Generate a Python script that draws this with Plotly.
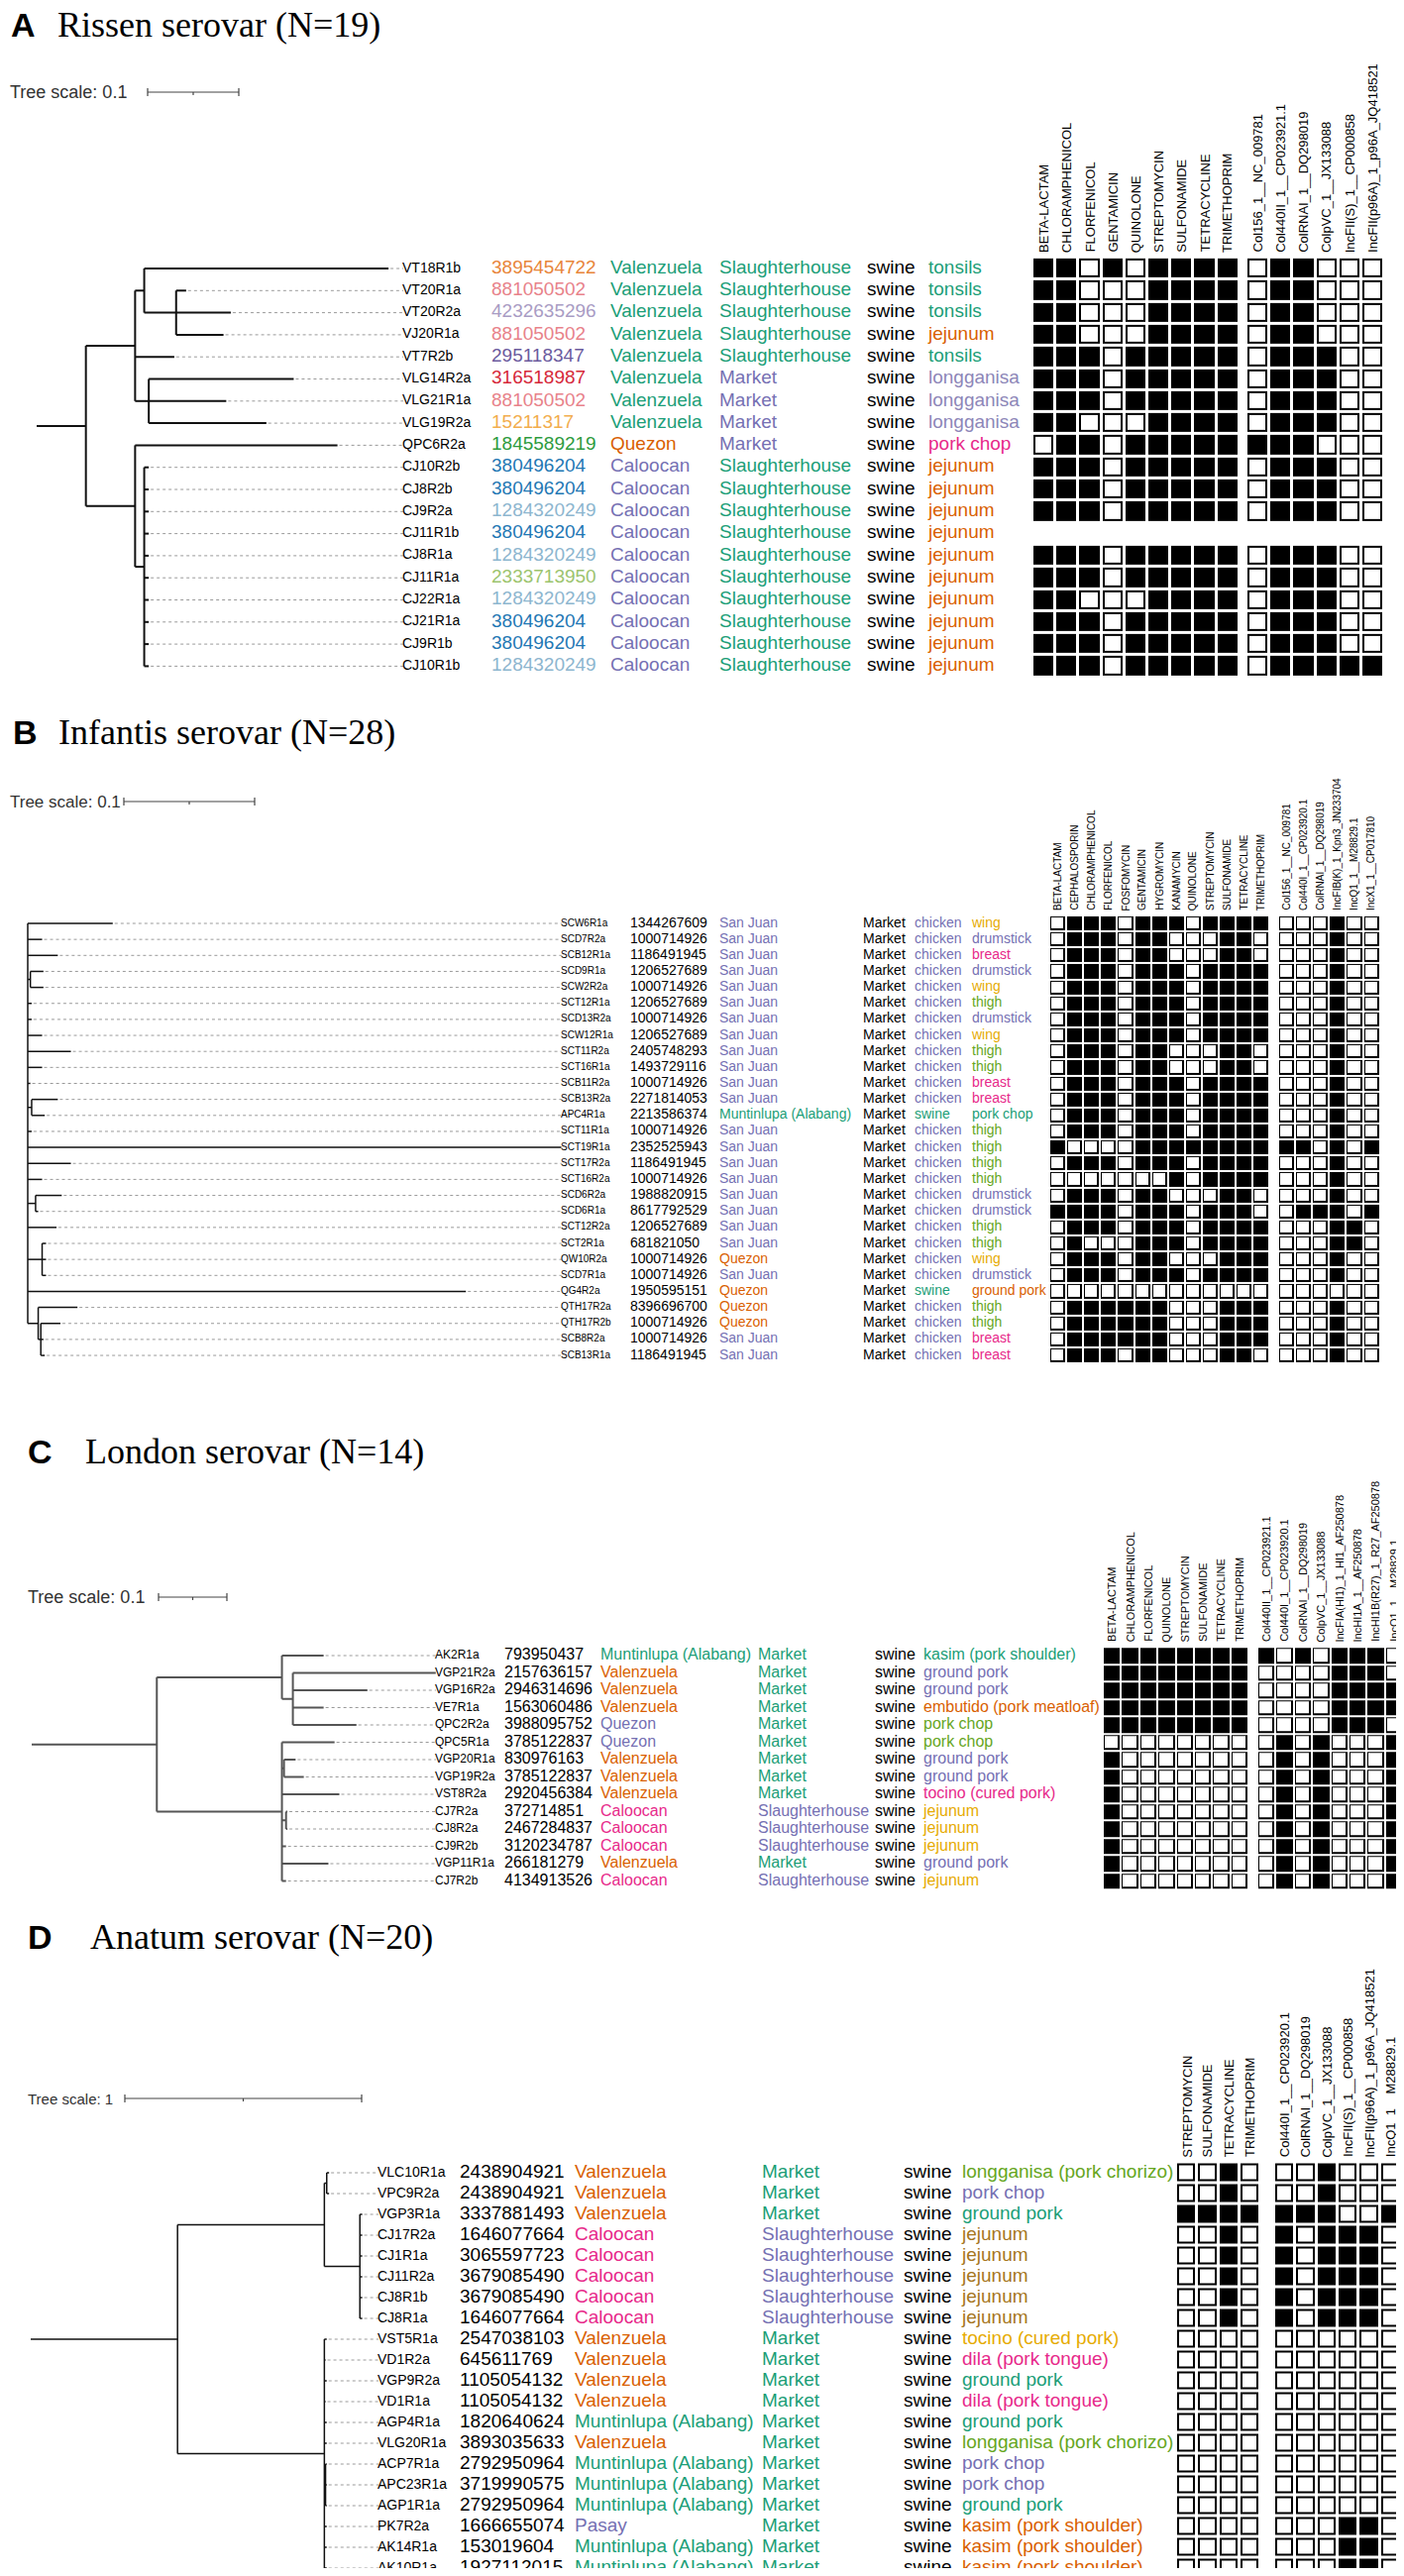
import numpy as np
import plotly.graph_objects as go

# Dark2-style colours used by the metadata columns
TEAL, ORANGE, PURPLE, PINK = '#1B9E77', '#D95F02', '#7570B3', '#E7298A'
GREEN, GOLD, BROWN = '#66A61E', '#E6AB02', '#A6761D'
SANS = 'Liberation Sans, Arial, sans-serif'
SERIF = 'Liberation Serif, Times New Roman, serif'

# ---------------- A. Rissen serovar (N=19) ----------------
a_newick = ("(((VT18R1b:0.268,(VT20R1a:0.011,VT20R2a:0.060,VJ20R1a:0.052):0.035):0.010,VT7R2b:0.043,"
            "(VLG14R2a:0.159,VLG21R1a:0.085,VLG19R2a:0.129):0.015):0.054,(QPC6R2a:0.222,"
            "(CJ10R2b:0.005,CJ8R2b:0.005,CJ9R2a:0.005,CJ11R1b:0.005,CJ8R1a:0.005,CJ11R1a:0.005,"
            "CJ22R1a:0.005,CJ21R1a:0.005,CJ9R1b:0.005,CJ10R1b:0.005):0.010):0.054):0.054;")
a_leaves = ['VT18R1b', 'VT20R1a', 'VT20R2a', 'VJ20R1a', 'VT7R2b', 'VLG14R2a', 'VLG21R1a', 'VLG19R2a',
            'QPC6R2a', 'CJ10R2b', 'CJ8R2b', 'CJ9R2a', 'CJ11R1b', 'CJ8R1a', 'CJ11R1a', 'CJ22R1a',
            'CJ21R1a', 'CJ9R1b', 'CJ10R1b']
a_ids = ['3895454722', '881050502', '4232635296', '881050502', '295118347', '316518987', '881050502',
         '15211317', '1845589219', '380496204', '380496204', '1284320249', '380496204', '1284320249',
         '2333713950', '1284320249', '380496204', '380496204', '1284320249']
a_loc = ['Valenzuela'] * 8 + ['Quezon'] + ['Caloocan'] * 10
a_type = ['Slaughterhouse'] * 5 + ['Market'] * 4 + ['Slaughterhouse'] * 10
a_host = ['swine'] * 19
a_tissue = ['tonsils', 'tonsils', 'tonsils', 'jejunum', 'tonsils', 'longganisa', 'longganisa',
            'longganisa', 'pork chop'] + ['jejunum'] * 10
a_amr_names = ['BETA-LACTAM', 'CHLORAMPHENICOL', 'FLORFENICOL', 'GENTAMICIN', 'QUINOLONE',
               'STREPTOMYCIN', 'SULFONAMIDE', 'TETRACYCLINE', 'TRIMETHOPRIM']
a_plas_names = ['Col156_1__NC_009781', 'Col440II_1__CP023921.1', 'ColRNAI_1__DQ298019',
                'ColpVC_1__JX133088', 'IncFII(S)_1__CP000858', 'IncFII(p96A)_1_p96A_JQ418521']
a_amr = ['110101111', '110001111', '110001111', '110001111', '111011111', '111011111', '111011111',
         '110001111', '011011111', '111011111', '111011111', '111011111', '', '111011111',
         '111011111', '110001111', '111011111', '111011111', '111011111']
a_plas = ['011000', '011000', '011000', '011000', '011100', '011100', '011100', '011100', '111000',
          '011100', '011100', '011100', '', '011100', '011100', '011100', '011100', '011100', '011111']
a_id_colors = {'3895454722': '#E8853A', '881050502': '#E8828A', '4232635296': '#A99CC4',
               '295118347': '#6B5B9E', '316518987': '#D62839', '15211317': '#F2AD4E',
               '1845589219': '#2E9B3E', '380496204': '#1F78B4', '1284320249': '#8DB6CF',
               '2333713950': '#9CC46E'}
a_colors = {'Valenzuela': TEAL, 'Quezon': ORANGE, 'Caloocan': PURPLE, 'Slaughterhouse': TEAL,
            'Market': PURPLE, 'swine': 'black', 'tonsils': TEAL, 'jejunum': ORANGE,
            'longganisa': '#8D86B8', 'pork chop': PINK}

# ---------------- B. Infantis serovar (N=28) ----------------
b_newick = ("(SCW6R1a:0.065,SCD7R2a:0.011,SCB12R1a:0.023,(SCD9R1a:0.010,SCW2R2a:0.010):0.002,"
            "SCT12R1a:0.003,SCD13R2a:0.003,SCW12R1a:0.011,SCT11R2a:0.033,SCT16R1a:0.011,SCB11R2a:0.002,"
            "(SCB13R2a:0.020,APC4R1a:0.010):0.003,SCT11R1a:0.003,SCT19R1a:0.408,SCT17R2a:0.033,"
            "SCT16R2a:0.011,(SCD6R2a:0.020,SCD6R1a:0.002):0.006,SCT12R2a:0.022,"
            "(SCT2R1a:0.003,QW10R2a:0.003,SCD7R1a:0.003):0.011,QG4R2a:0.335,"
            "(QTH17R2a:0.030,(QTH17R2b:0.015,SCB8R2a:0.002,SCB13R1a:0.003):0.002):0.008):0.0;")
b_leaves = ['SCW6R1a', 'SCD7R2a', 'SCB12R1a', 'SCD9R1a', 'SCW2R2a', 'SCT12R1a', 'SCD13R2a', 'SCW12R1a',
            'SCT11R2a', 'SCT16R1a', 'SCB11R2a', 'SCB13R2a', 'APC4R1a', 'SCT11R1a', 'SCT19R1a',
            'SCT17R2a', 'SCT16R2a', 'SCD6R2a', 'SCD6R1a', 'SCT12R2a', 'SCT2R1a', 'QW10R2a', 'SCD7R1a',
            'QG4R2a', 'QTH17R2a', 'QTH17R2b', 'SCB8R2a', 'SCB13R1a']
b_ids = ['1344267609', '1000714926', '1186491945', '1206527689', '1000714926', '1206527689',
         '1000714926', '1206527689', '2405748293', '1493729116', '1000714926', '2271814053',
         '2213586374', '1000714926', '2352525943', '1186491945', '1000714926', '1988820915',
         '8617792529', '1206527689', '681821050', '1000714926', '1000714926', '1950595151',
         '8396696700', '1000714926', '1000714926', '1186491945']
b_loc = ['San Juan'] * 12 + ['Muntinlupa (Alabang)'] + ['San Juan'] * 8 + ['Quezon', 'San Juan',
         'Quezon', 'Quezon', 'Quezon', 'San Juan', 'San Juan']
b_type = ['Market'] * 28
b_host = ['chicken'] * 12 + ['swine'] + ['chicken'] * 10 + ['swine'] + ['chicken'] * 4
b_tissue = ['wing', 'drumstick', 'breast', 'drumstick', 'wing', 'thigh', 'drumstick', 'wing', 'thigh',
            'thigh', 'breast', 'breast', 'pork chop', 'thigh', 'thigh', 'thigh', 'thigh', 'drumstick',
            'drumstick', 'thigh', 'thigh', 'wing', 'drumstick', 'ground pork', 'thigh', 'thigh',
            'breast', 'breast']
b_amr_names = ['BETA-LACTAM', 'CEPHALOSPORIN', 'CHLORAMPHENICOL', 'FLORFENICOL', 'FOSFOMYCIN',
               'GENTAMICIN', 'HYGROMYCIN', 'KANAMYCIN', 'QUINOLONE', 'STREPTOMYCIN', 'SULFONAMIDE',
               'TETRACYCLINE', 'TRIMETHOPRIM']
b_plas_names = ['Col156_1__NC_009781', 'Col440I_1__CP023920.1', 'ColRNAI_1__DQ298019',
                'IncFIB(K)_1_Kpn3_JN233704', 'IncQ1_1__M28829.1', 'IncX1_1__CP017810']
b_amr = ['0111011101111', '0111011000110', '0111011000110', '0111011101111', '0111011101111',
         '0111011101111', '0111011101111', '0111011101111', '0111011000110', '0111011000110',
         '0111011101111', '0111011101111', '0111011101111', '0111011101111', '1000011111111',
         '0111011101111', '0000000101111', '0111011000110', '1111011101110', '0111011101111',
         '0100011101111', '0111011000111', '0111011101111', '0000000000000', '0111111000111',
         '0111111000111', '0111111000111', '0111011000110']
b_plas = ['000100'] * 14 + ['110101', '000100', '000100', '000100', '011101', '000110', '000110',
          '000100', '000100', '000000', '000100', '000100', '000100', '000100']
b_colors = {'San Juan': PURPLE, 'Muntinlupa (Alabang)': TEAL, 'Quezon': ORANGE, 'Market': 'black',
            'chicken': PURPLE, 'swine': TEAL, 'wing': GOLD, 'drumstick': PURPLE, 'breast': PINK,
            'thigh': GREEN, 'pork chop': TEAL, 'ground pork': ORANGE}

# ---------------- C. London serovar (N=14) ----------------
c_newick = ("((AK2R1a:0.061,(VGP21R2a:0.209,VGP16R2a:0.109,VE7R1a:0.045,QPC2R2a:0.093):0.016):0.183,"
            "(QPC5R1a:0.077,(VGP20R1a:0.017,VGP19R2a:0.029):0.003,VST8R2a:0.084,"
            "(CJ7R2a:0.002,CJ8R2a:0.002):0.006,CJ9R2b:0.006,VGP11R1a:0.068,CJ7R2b:0.006):0.183):0.183;")
c_leaves = ['AK2R1a', 'VGP21R2a', 'VGP16R2a', 'VE7R1a', 'QPC2R2a', 'QPC5R1a', 'VGP20R1a', 'VGP19R2a',
            'VST8R2a', 'CJ7R2a', 'CJ8R2a', 'CJ9R2b', 'VGP11R1a', 'CJ7R2b']
c_ids = ['793950437', '2157636157', '2946314696', '1563060486', '3988095752', '3785122837',
         '830976163', '3785122837', '2920456384', '372714851', '2467284837', '3120234787',
         '266181279', '4134913526']
c_loc = ['Muntinlupa (Alabang)', 'Valenzuela', 'Valenzuela', 'Valenzuela', 'Quezon', 'Quezon',
         'Valenzuela', 'Valenzuela', 'Valenzuela', 'Caloocan', 'Caloocan', 'Caloocan', 'Valenzuela',
         'Caloocan']
c_type = ['Market'] * 9 + ['Slaughterhouse'] * 3 + ['Market', 'Slaughterhouse']
c_host = ['swine'] * 14
c_tissue = ['kasim (pork shoulder)', 'ground pork', 'ground pork', 'embutido (pork meatloaf)',
            'pork chop', 'pork chop', 'ground pork', 'ground pork', 'tocino (cured pork)', 'jejunum',
            'jejunum', 'jejunum', 'ground pork', 'jejunum']
c_amr_names = ['BETA-LACTAM', 'CHLORAMPHENICOL', 'FLORFENICOL', 'QUINOLONE', 'STREPTOMYCIN',
               'SULFONAMIDE', 'TETRACYCLINE', 'TRIMETHOPRIM']
c_plas_names = ['Col440II_1__CP023921.1', 'Col440I_1__CP023920.1', 'ColRNAI_1__DQ298019',
                'ColpVC_1__JX133088', 'IncFIA(HI1)_1_HI1_AF250878', 'IncHI1A_1__AF250878',
                'IncHI1B(R27)_1_R27_AF250878', 'IncQ1_1__M28829.1']
c_amr = ['11111111'] * 5 + ['00000000'] + ['10000000'] * 8
c_plas = ['10101110', '00001110', '00001111', '00001111', '00001110'] + ['01010001'] * 9
c_colors = {'Muntinlupa (Alabang)': TEAL, 'Valenzuela': ORANGE, 'Quezon': PURPLE, 'Caloocan': PINK,
            'Market': TEAL, 'Slaughterhouse': PURPLE, 'swine': 'black',
            'kasim (pork shoulder)': TEAL, 'ground pork': PURPLE, 'embutido (pork meatloaf)': ORANGE,
            'pork chop': GREEN, 'tocino (cured pork)': PINK, 'jejunum': GOLD}

# ---------------- D. Anatum serovar (N=20) ----------------
d_newick = ("(((VLC10R1a:0.01,VPC9R2a:0.01):0.01,(VGP3R1a:0.01,CJ17R2a:0.01,CJ1R1a:0.01,CJ11R2a:0.01,"
            "CJ8R1b:0.01,CJ8R1a:0.01):0.15):0.62,(VST5R1a:0.01,VD1R2a:0.005,VGP9R2a:0.01,VD1R1a:0.005,"
            "AGP4R1a:0.01,VLG20R1a:0.01,(ACP7R1a:0.005,APC23R1a:0.005,AGP1R1a:0.005):0.005,"
            "PK7R2a:0.01,AK14R1a:0.01,AK10R1a:0.01):0.62):0.62;")
d_leaves = ['VLC10R1a', 'VPC9R2a', 'VGP3R1a', 'CJ17R2a', 'CJ1R1a', 'CJ11R2a', 'CJ8R1b', 'CJ8R1a',
            'VST5R1a', 'VD1R2a', 'VGP9R2a', 'VD1R1a', 'AGP4R1a', 'VLG20R1a', 'ACP7R1a', 'APC23R1a',
            'AGP1R1a', 'PK7R2a', 'AK14R1a', 'AK10R1a']
d_ids = ['2438904921', '2438904921', '3337881493', '1646077664', '3065597723', '3679085490',
         '3679085490', '1646077664', '2547038103', '645611769', '1105054132', '1105054132',
         '1820640624', '3893035633', '2792950964', '3719990575', '2792950964', '1666655074',
         '153019604', '1927112015']
d_loc = ['Valenzuela'] * 3 + ['Caloocan'] * 5 + ['Valenzuela'] * 4 + ['Muntinlupa (Alabang)',
         'Valenzuela'] + ['Muntinlupa (Alabang)'] * 3 + ['Pasay'] + ['Muntinlupa (Alabang)'] * 2
d_type = ['Market'] * 3 + ['Slaughterhouse'] * 5 + ['Market'] * 12
d_host = ['swine'] * 20
d_tissue = ['longganisa (pork chorizo)', 'pork chop', 'ground pork'] + ['jejunum'] * 5 + [
    'tocino (cured pork)', 'dila (pork tongue)', 'ground pork', 'dila (pork tongue)', 'ground pork',
    'longganisa (pork chorizo)', 'pork chop', 'pork chop', 'ground pork'] + ['kasim (pork shoulder)'] * 3
d_amr_names = ['STREPTOMYCIN', 'SULFONAMIDE', 'TETRACYCLINE', 'TRIMETHOPRIM']
d_plas_names = ['Col440I_1__CP023920.1', 'ColRNAI_1__DQ298019', 'ColpVC_1__JX133088',
                'IncFII(S)_1__CP000858', 'IncFII(p96A)_1_p96A_JQ418521', 'IncQ1_1__M28829.1']
d_amr = ['0010', '0010', '1111'] + ['0010'] * 5 + ['0000'] * 12
d_plas = ['001000', '001000', '111001'] + ['101110'] * 5 + ['000000'] * 9 + ['000110'] * 3
d_colors = {'Valenzuela': ORANGE, 'Caloocan': PINK, 'Muntinlupa (Alabang)': TEAL, 'Pasay': PURPLE,
            'Market': TEAL, 'Slaughterhouse': PURPLE, 'swine': 'black',
            'longganisa (pork chorizo)': GREEN, 'pork chop': PURPLE, 'ground pork': TEAL,
            'jejunum': BROWN, 'tocino (cured pork)': GOLD, 'dila (pork tongue)': PINK,
            'kasim (pork shoulder)': ORANGE}


def parse_newick(s):
    s = s.strip().rstrip(';')
    pos = 0

    def node():
        nonlocal pos
        kids = []
        if s[pos] == '(':
            pos += 1
            kids.append(node())
            while s[pos] == ',':
                pos += 1
                kids.append(node())
            pos += 1
        start = pos
        while pos < len(s) and s[pos] not in ',():':
            pos += 1
        name = s[start:pos]
        length = 0.0
        if pos < len(s) and s[pos] == ':':
            pos += 1
            start = pos
            while pos < len(s) and s[pos] not in ',()':
                pos += 1
            length = float(s[start:pos])
        return {'name': name, 'len': length, 'kids': kids}
    return node()


def tree_segments(tree, leaves):
    segs, tips = [], []

    def walk(n, xp):
        x = xp + n['len']
        if n['kids']:
            ys = [walk(k, x) for k in n['kids']]
            y = (ys[0] + ys[-1]) / 2
            segs.append((x, ys[0], x, ys[-1]))
        else:
            y = leaves.index(n['name'])
            tips.append((x, y))
        segs.append((xp, y, x, y))
        return y
    walk(tree, 0.0)
    return segs, tips


def draw_panel(fig, d, c):
    n = len(d['leaves'])
    rows = c['row0'] + c['dy'] * np.arange(n)
    ypx = lambda v: c['row0'] + v * c['dy']
    xpx = lambda v: c['root'] + v * c['ppu']

    # title
    fig.add_annotation(x=c['title'][0], y=c['title'][2], text='<b>%s</b>' % d['letter'], showarrow=False,
                       xanchor='left', yanchor='middle', font=dict(family=SANS, size=34, color='black'))
    fig.add_annotation(x=c['title'][1], y=c['title'][2], text=d['name'], showarrow=False,
                       xanchor='left', yanchor='middle', font=dict(family=SERIF, size=36, color='black'))

    # tree scale
    sx, sy, sfs, bx = c['scale']
    fig.add_annotation(x=sx, y=sy, text='Tree scale: %g' % d['scale'], showarrow=False, xanchor='left',
                       yanchor='middle', font=dict(family=SANS, size=sfs, color='#333'))
    blen = d['scale'] * c['ppu']
    fig.add_trace(go.Scatter(
        x=[bx, bx + blen, None, bx, bx, None, bx + blen, bx + blen, None, bx + blen / 2, bx + blen / 2],
        y=[sy, sy, None, sy - 4, sy + 4, None, sy - 4, sy + 4, None, sy, sy + 3],
        mode='lines', line=dict(color='#444', width=1.2), hoverinfo='skip'))

    # tree branches
    segs, tips = tree_segments(parse_newick(d['newick']), d['leaves'])
    xs, ys = [], []
    for x0, y0, x1, y1 in segs:
        xs += [xpx(x0), xpx(x1), None]
        ys += [ypx(y0), ypx(y1), None]
    fig.add_trace(go.Scatter(x=xs, y=ys, mode='lines', hoverinfo='skip',
                             line=dict(color=c['tree_color'], width=c['lw'])))
    dx, dyy = [], []
    for x, i in tips:
        if xpx(x) < c['cols'][0] - 6:
            dx += [xpx(x) + 2, c['cols'][0] - 2, None]
            dyy += [ypx(i), ypx(i), None]
    fig.add_trace(go.Scatter(x=dx, y=dyy, mode='lines', hoverinfo='skip',
                             line=dict(color='#9a9a9a', width=1, dash='3px,3px')))

    # metadata text columns
    fields = [d['leaves'], d['ids'], d['loc'], d['type'], d['host'], d['tissue']]
    for k, (col_x, vals) in enumerate(zip(c['cols'], fields)):
        if k == 0:
            colors, size = 'black', c['leaf_fs']
        elif k == 1:
            colors = [d['id_colors'].get(v, 'black') for v in vals]
            size = c['text_fs']
        else:
            colors = [d['colors'].get(v, 'black') for v in vals]
            size = c['text_fs']
        fig.add_trace(go.Scatter(x=[col_x - 3] * n, y=rows, mode='text', text=vals,
                                 textposition='middle right', cliponaxis=False, hoverinfo='skip',
                                 textfont=dict(family=SANS, size=size, color=colors)))

    # presence / absence heatmaps
    for names, mat, x0 in [(d['amr_names'], d['amr'], c['amr_x0']), (d['plas_names'], d['plas'], c['plas_x0'])]:
        z = [[int(ch) for ch in r] if r else [None] * len(names) for r in mat]
        base = [[None if v is None else 1 for v in r] for r in z]
        white = [[1 if v == 0 else None for v in r] for r in z]
        xc = x0 + c['cw'] * (np.arange(len(names)) + 0.5)
        fig.add_trace(go.Heatmap(x=xc, y=rows, z=base, colorscale=[[0, 'black'], [1, 'black']],
                                 zmin=0, zmax=1, showscale=False, xgap=c['gap'], ygap=c['gap'],
                                 hoverinfo='skip'))
        g2 = c['gap'] + 2 * c['border']
        fig.add_trace(go.Heatmap(x=xc, y=rows, z=white, colorscale=[[0, 'white'], [1, 'white']],
                                 zmin=0, zmax=1, showscale=False, xgap=g2, ygap=g2, hoverinfo='skip'))
        for xv, lab in zip(xc, names):
            fig.add_annotation(x=xv, y=rows[0] - c['dy'] / 2 - 3, text=lab, textangle=-90,
                               showarrow=False, xanchor='center', yanchor='bottom',
                               font=dict(family=SANS, size=c['hdr_fs'], color='black'))


panels = [
    (dict(letter='A', name='Rissen serovar (N=19)', scale=0.1, newick=a_newick, leaves=a_leaves,
          ids=a_ids, loc=a_loc, type=a_type, host=a_host, tissue=a_tissue, amr_names=a_amr_names,
          plas_names=a_plas_names, amr=a_amr, plas=a_plas, id_colors=a_id_colors, colors=a_colors),
     dict(title=(9, 56, 25), scale=(8, 93, 18, 149), root=37, ppu=920, row0=271, dy=22.3,
          cols=[409, 499, 619, 729, 878, 940], leaf_fs=14, text_fs=19, amr_x0=1042, plas_x0=1258,
          cw=23.2, gap=3, border=2, hdr_fs=13, lw=2, tree_color='#111')),
    (dict(letter='B', name='Infantis serovar (N=28)', scale=0.1, newick=b_newick, leaves=b_leaves,
          ids=b_ids, loc=b_loc, type=b_type, host=b_host, tissue=b_tissue, amr_names=b_amr_names,
          plas_names=b_plas_names, amr=b_amr, plas=b_plas, id_colors={}, colors=b_colors),
     dict(title=(11, 57, 739), scale=(8, 809, 17, 125), root=28, ppu=1320, row0=932, dy=16.15,
          cols=[569, 639, 729, 874, 926, 984], leaf_fs=10, text_fs=14, amr_x0=1059, plas_x0=1290,
          cw=17.1, gap=2, border=1.5, hdr_fs=10, lw=1.5, tree_color='#111')),
    (dict(letter='C', name='London serovar (N=14)', scale=0.1, newick=c_newick, leaves=c_leaves,
          ids=c_ids, loc=c_loc, type=c_type, host=c_host, tissue=c_tissue, amr_names=c_amr_names,
          plas_names=c_plas_names, amr=c_amr, plas=c_plas, id_colors={}, colors=c_colors),
     dict(title=(26, 84, 1465), scale=(26, 1612, 18, 160), root=32, ppu=690, row0=1671, dy=17.5,
          cols=[442, 512, 609, 768, 886, 935], leaf_fs=12, text_fs=16, amr_x0=1113, plas_x0=1269,
          cw=18.4, gap=2, border=1.5, hdr_fs=11, lw=2, tree_color='#555')),
    (dict(letter='D', name='Anatum serovar (N=20)', scale=1, newick=d_newick, leaves=d_leaves,
          ids=d_ids, loc=d_loc, type=d_type, host=d_host, tissue=d_tissue, amr_names=d_amr_names,
          plas_names=d_plas_names, amr=d_amr, plas=d_plas, id_colors={}, colors=d_colors),
     dict(title=(26, 89, 1955), scale=(26, 2118, 15, 126), root=31, ppu=239, row0=2193, dy=21.0,
          cols=[384, 467, 583, 772, 915, 974], leaf_fs=14, text_fs=19, amr_x0=1187, plas_x0=1286,
          cw=21.3, gap=3, border=2, hdr_fs=13, lw=1.5, tree_color='#111')),
]

fig = go.Figure()
for d, c in panels:
    draw_panel(fig, d, c)

# page body keeps its default 8px margin, so the axes are offset to keep page pixels == data units
fig.update_layout(
    width=1417 - 16, height=2600 - 16, autosize=False,
    margin=dict(l=0, r=0, t=0, b=0),
    paper_bgcolor='white', plot_bgcolor='white', showlegend=False,
    xaxis=dict(range=[8, 1409], visible=False, fixedrange=True),
    yaxis=dict(range=[2592, 8], visible=False, fixedrange=True),
)
fig.write_html("out.html")
